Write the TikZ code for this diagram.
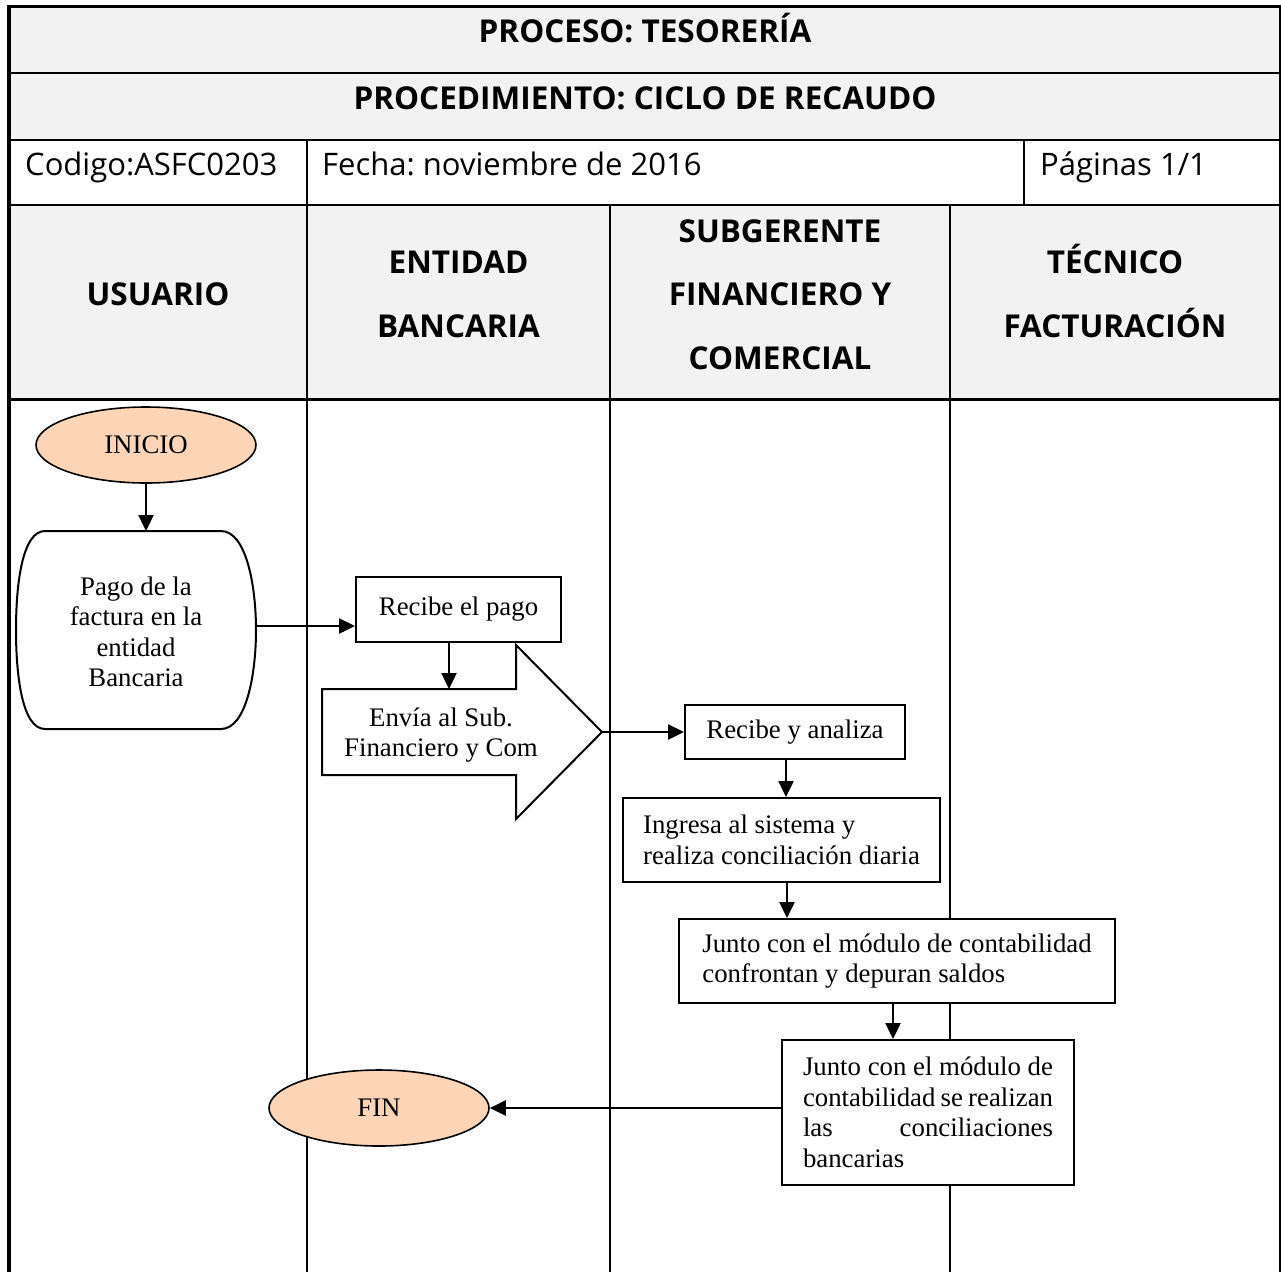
\documentclass[tikz,border=0pt]{standalone}
\usepackage{fontspec}
\setmainfont{Liberation Serif}
\newfontfamily\headfont{Open Sans}
\usetikzlibrary{arrows.meta,shapes.geometric}
\definecolor{cellgray}{HTML}{F2F2F2}
\definecolor{peach}{HTML}{FBD5B5}
\newcommand\hstrut{\rule{0pt}{30pt}}
\newcommand\dstrut{\rule[-8pt]{0pt}{8pt}}

\begin{document}
\frenchspacing
\begin{tikzpicture}[x=1pt,y=-1pt,
  head/.style={font=\headfont\bfseries\fontsize{31.5}{63.5}\selectfont, align=center, inner sep=0pt},
  cell/.style={font=\headfont\fontsize{31}{36}\selectfont, inner sep=0pt, anchor=base west},
  body/.style={font=\fontsize{26.8}{30.5}\selectfont},
  stepbox/.style={body, draw, line width=2pt, fill=white, inner sep=0pt, align=left},
  term/.style={body, ellipse, draw, line width=1.6pt, fill=peach, minimum width=220pt, minimum height=76pt, inner sep=0pt},
  arr/.style={line width=2.4pt, -{Triangle[length=16pt,width=15pt]}},
  lane/.style={line width=1.5pt},
]
\useasboundingbox (0,0) rectangle (1281,1272);

% shaded bands of the form
\fill[cellgray] (9,6) rectangle (1280,140);
\fill[cellgray] (9,205) rectangle (1280,399);

% form heading
\node[head, anchor=base] (proc) at (645,42) {PROCESO: TESORERÍA};
\node[head, anchor=base] (procd) at (645,109) {PROCEDIMIENTO: CICLO DE RECAUDO};
\node[cell] (cod) at (25,175) {Codigo:ASFC0203};
\node[cell] (fecha) at (322,175) {Fecha: noviembre de 2016};
\node[cell] (pag) at (1040,175) {Páginas 1/1};

% lane titles
\node[head] (usuario) at (158,294.5) {\hstrut USUARIO\dstrut};
\node[head] (entidad) at (458.5,294.5) {\hstrut ENTIDAD\\BANCARIA\dstrut};
\node[head] (subg) at (780,294.5) {\hstrut SUBGERENTE\\FINANCIERO Y\\COMERCIAL\dstrut};
\node[head] (tecnico) at (1115,294.5) {\hstrut TÉCNICO\\FACTURACIÓN\dstrut};

% table rules
\draw[line width=3pt] (9,6) -- (1281,6);
\draw[line width=3.5pt] (9,4.5) -- (9,1272);
\draw[line width=2pt] (1280,6) -- (1280,1272);
\draw[line width=2.5pt] (9,73) -- (1280,73);
\draw[line width=2.5pt] (9,140) -- (1280,140);
\draw[line width=1.2pt] (9,205) -- (1280,205);
\draw[line width=3pt] (9,399) -- (1280,399);
\draw[lane] (307,140) -- (307,205);
\draw[lane] (1024,140) -- (1024,205);
\draw[lane] (307,205) -- (307,1272);
\draw[lane] (610,205) -- (610,1272);
\draw[lane] (950,205) -- (950,1272);

% flow
\node[term] (inicio) at (146,445) {INICIO};

\draw[line width=2pt, fill=white] (45,531) -- (221,531)
  .. controls (246,531) and (256,585) .. (256,630)
  .. controls (256,675) and (246,729) .. (221,729) -- (45,729)
  .. controls (22,729) and (16,675) .. (16,630)
  .. controls (16,585) and (22,531) .. (45,531) -- cycle;
\node[body, align=center, inner sep=0pt, minimum width=240pt] (pago) at (136,632) {Pago de la\\factura en la\\entidad\\Bancaria};
\draw[arr] (inicio.south) -- (inicio.south |- 0,531);

\node[stepbox, minimum width=205pt, minimum height=65pt] (recibe) at (458.5,609.5) {Recibe el pago};
\coordinate (pagoout) at (256,626);
\draw[arr] (pagoout) -- (pagoout -| recibe.west);

\draw[line width=2pt, fill=white] (322,689) -- (516,689) -- (516,645) -- (602,732)
  -- (516,819) -- (516,775) -- (322,775) -- cycle;
\node[body, align=center, inner sep=0pt] (envia) at (441,735) {Envía al Sub.\\Financiero y Com};
\coordinate (enviatop) at (449,689);
\coordinate (enviatip) at (602,732);
\draw[arr] (recibe.south -| enviatop) -- (enviatop);

\node[stepbox, minimum width=220pt, minimum height=54pt] (analiza) at (795,732) {Recibe y analiza};
\draw[arr] (enviatip) -- (analiza.west);

\node[stepbox, minimum width=317pt, minimum height=84pt] (ingresa) at (781.5,840) {Ingresa al sistema y\\realiza conciliación diaria};
\draw[arr] ([xshift=-9pt]analiza.south) -- ([xshift=-9pt]analiza.south |- ingresa.north);

\node[stepbox, minimum width=436pt, minimum height=84pt] (junto1) at (897,961) {Junto con el módulo de contabilidad\\confrontan y depuran saldos};
\draw[arr] ([xshift=5.5pt]ingresa.south) -- ([xshift=5.5pt]ingresa.south |- junto1.north);

\node[stepbox, minimum width=292pt, minimum height=145pt] (junto2) at (928,1112.5) {\makebox[250pt][s]{Junto con el módulo de}\\\makebox[250pt][s]{contabilidad se realizan}\\\makebox[250pt][s]{las conciliaciones}\\bancarias};
\draw[arr] ([xshift=-4pt]junto1.south) -- ([xshift=-4pt]junto1.south |- junto2.north);

\node[term] (fin) at (379,1108) {FIN};
\draw[arr] (junto2.west |- fin.east) -- (fin.east);
\end{tikzpicture}
\end{document}
